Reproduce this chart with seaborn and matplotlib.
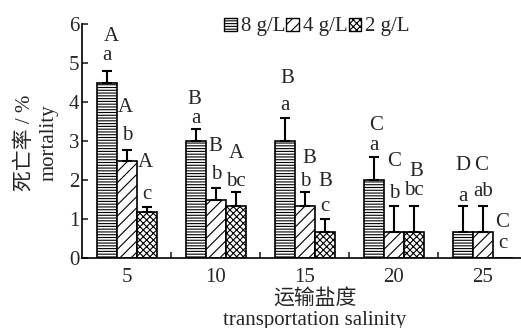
import matplotlib
matplotlib.use("Agg")
import matplotlib.pyplot as plt
import seaborn as sns
import pandas as pd
import numpy as np
from matplotlib.patches import Patch

# ---------------- data ----------------
salinity = ["5", "10", "15", "20", "25"]
groups = ["8 g/L", "4 g/L", "2 g/L"]
mort_8 = [4.5, 3.0, 3.0, 2.0, 0.67]
mort_4 = [2.5, 1.5, 1.33, 0.67, 0.67]
mort_2 = [1.17, 1.33, 0.67, 0.67, 0.0]
err_8 = [0.30, 0.31, 0.58, 0.58, 0.67]
err_4 = [0.28, 0.30, 0.36, 0.67, 0.67]
err_2 = [0.15, 0.36, 0.33, 0.67, 0.0]
upper_8 = ["A", "B", "B", "C", "D"]
upper_4 = ["A", "B", "B", "C", "C"]
upper_2 = ["A", "A", "B", "B", "C"]
lower_8 = ["a", "a", "a", "a", "a"]
lower_4 = ["b", "b", "b", "b", "ab"]
lower_2 = ["c", "bc", "c", "bc", "c"]

# ---------------- layout (label offsets above error tops, data units) ----------------
low_off = [[0.38, 0.27, 0.32, 0.30, 0.23],
           [0.37, 0.35, 0.26, 0.31, 0.36],
           [0.32, 0.26, 0.31, 0.39, 0.38]]
up_off = [[0.87, 0.76, 1.02, 0.81, 1.03],
          [1.09, 1.05, 0.85, 1.13, 1.03],
          [1.12, 1.00, 0.95, 0.88, 0.90]]
up_dx = [[0.05, -0.02, 0.03, 0.03, 0.0],
         [-0.02, -0.01, 0.05, 0.0, -0.02],
         [-0.02, 0.01, 0.01, 0.03, -0.01]]

sns.set_theme(style="ticks")
plt.rcParams['font.family'] = ['Liberation Serif', 'Noto Sans CJK SC']
plt.rcParams['hatch.linewidth'] = 0.8

FS = 15

df = pd.DataFrame({
    "salinity": salinity * 3,
    "group": [g for g in groups for _ in salinity],
    "mort": mort_8 + mort_4 + mort_2,
})

fig = plt.figure(figsize=(5.21, 3.28), dpi=100)
ax = fig.add_axes([82 / 521, 1 - 258 / 328, 1 - 82 / 521, (258 - 24) / 328])

sns.barplot(data=df, x="salinity", y="mort", hue="group", order=salinity,
            hue_order=groups, palette=["white"] * 3, edgecolor="black",
            linewidth=1.2, width=0.674, errorbar=None, ax=ax, legend=False,
            saturation=1)

hatches = ["------", "///", "xxxxx"]
errs = [err_8, err_4, err_2]
uppers = [upper_8, upper_4, upper_2]
lowers = [lower_8, lower_4, lower_2]

bar_conts = list(ax.containers)
for gi, cont in enumerate(bar_conts):
    for bi, bar in enumerate(cont):
        bar.set_hatch(hatches[gi])
        cx = bar.get_x() + bar.get_width() / 2
        top = bar.get_height()
        e = errs[gi][bi]
        if e > 0:
            ax.errorbar([cx], [top], yerr=[[0], [e]], fmt="none", ecolor="black",
                        elinewidth=1.5, capsize=3.5, capthick=1.5, zorder=3)
        etop = top + e
        ax.text(cx, etop + low_off[gi][bi], lowers[gi][bi], ha="center",
                va="center", fontsize=FS)
        ax.text(cx + up_dx[gi][bi], etop + up_off[gi][bi], uppers[gi][bi],
                ha="center", va="center", fontsize=FS)

ax.set_ylim(0, 6)
ax.set_xlim(-0.506, 4.43)
ax.set_yticks([0, 1, 2, 3, 4, 5, 6])
ax.tick_params(axis="y", direction="in", length=4, width=1.2, labelsize=FS, pad=2)
ax.tick_params(axis="x", which="major", length=0, labelsize=FS, pad=7)
ax.set_xticks([0.5, 1.5, 2.5, 3.5], minor=True)
ax.tick_params(axis="x", which="minor", direction="in", length=4, width=1.2)
for s in ["top", "right"]:
    ax.spines[s].set_visible(False)
for s in ["left", "bottom"]:
    ax.spines[s].set_linewidth(1.2)
    ax.spines[s].set_color("black")
ax.set_xlabel("")
ax.set_ylabel("")

fig.text(25 / 521, 1 - 143 / 328, "死亡率 / %", rotation=90, ha="center",
         va="center", fontsize=FS)
fig.text(49 / 521, 1 - 143 / 328, "mortality", rotation=90, ha="center",
         va="center", fontsize=FS)
fig.text(315 / 521, 1 - 299 / 328, "运输盐度", ha="center", va="center", fontsize=FS)
fig.text(315 / 521, 1 - 320 / 328, "transportation salinity", ha="center",
         va="center", fontsize=FS)

handles = [Patch(facecolor="white", edgecolor="black", hatch=h, linewidth=1.0)
           for h in hatches]
fig.legend(handles, groups, loc="center", bbox_to_anchor=(317 / 521, 1 - 27 / 328),
           ncol=3, frameon=False, fontsize=FS, handlelength=0.6, handleheight=0.6,
           handletextpad=0.2, columnspacing=0.05, borderpad=0)

fig.savefig("out.png", dpi=100)
